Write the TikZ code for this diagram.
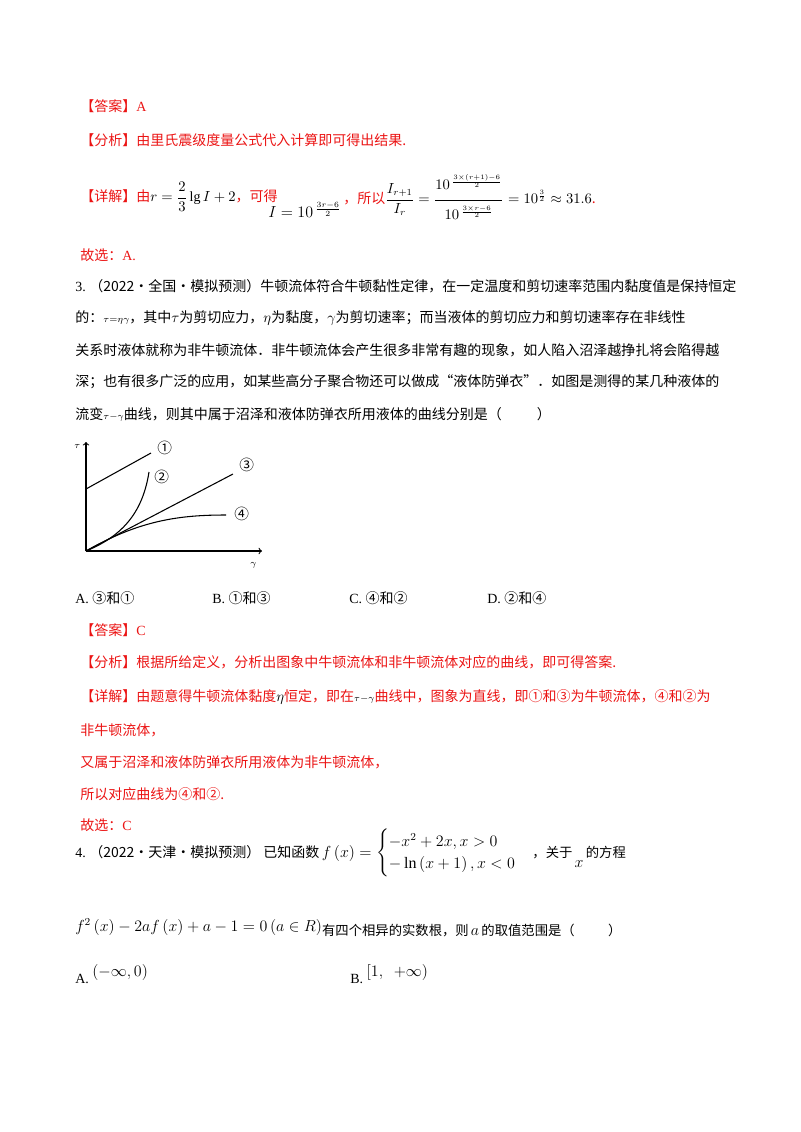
\documentclass[tikz,border=0pt]{standalone}
\usepackage{amsmath}
\usepackage{fontspec}
\setmainfont{Liberation Serif}
\newfontfamily\cjk{Noto Sans CJK SC}
\definecolor{ansred}{RGB}{235,20,20}
\begin{document}
\begin{tikzpicture}[x=0.75pt,y=-0.75pt,
  t/.style={anchor=west,inner sep=0pt,font=\fontsize{10.5}{12}\selectfont\cjk},
  r/.style={t,text=ansred}]
\useasboundingbox (0,0) rectangle (800,1132);
\node[r] (l1) at (80,106) {【答案】\rmfamily A};
\node[r] (l2) at (80,140) {【分析】由里氏震级度量公式代入计算即可得出结果.};
\node[r] (l3) at (80,197) {【详解】由\textcolor{black}{$r=\dfrac{2}{3}\lg I+2$}，可得};
\node[t] (l3b) at (268,210) {\large $I=10^{\,\frac{3r-6}{2}}$};
\node[r] (l3c) at (343,197) {，所以\textcolor{black}{$\dfrac{I_{r+1}}{I_r}=\dfrac{10^{\,\frac{3\times(r+1)-6}{2}}\rule[-6pt]{0pt}{6pt}}{\rule{0pt}{13pt}10^{\,\frac{3\times r-6}{2}}}=10^{\frac32}\approx31.6$}.};
\node[r] (l4) at (80,255) {故选：\rmfamily A.};
\node[t] (q1) at (75,286) {\rmfamily 3.\ \cjk（2022·全国·模拟预测）牛顿流体符合牛顿黏性定律，在一定温度和剪切速率范围内黏度值是保持恒定};
\node[t] (q2) at (75,318) {的：$\scriptstyle\tau=\eta\gamma$，其中$\tau$为剪切应力，$\eta$为黏度，$\gamma$为剪切速率；而当液体的剪切应力和剪切速率存在非线性};
\node[t] (q3) at (75,350) {关系时液体就称为非牛顿流体．非牛顿流体会产生很多非常有趣的现象，如人陷入沼泽越挣扎将会陷得越};
\node[t] (q4) at (75,382) {深；也有很多广泛的应用，如某些高分子聚合物还可以做成“液体防弹衣”．如图是测得的某几种液体的};
\node[t] (q5) at (75,414) {流变$\scriptstyle\tau-\gamma$曲线，则其中属于沼泽和液体防弹衣所用液体的曲线分别是（\hspace{2.5em}）};
% graph
\coordinate (O) at (86,551);
\draw[thick,->] (O) -- (86,442);
\draw[thick,->] (O) -- (262,551);
\node[t] (tau) at (74,446) {$\scriptstyle\tau$};
\node[t] (gam) at (250,565) {$\scriptstyle\gamma$};
\draw[thick] (86,489) -- (151,453);
\draw[thick] (O) .. controls (125,535) and (143,510) .. (149,472);
\draw[thick] (O) -- (233,474);
\draw[thick] (O) .. controls (140,520) and (180,515) .. (226,515);
\node[t] (c1) at (157,448) {\fontsize{11}{12}\selectfont ①};
\node[t] (c2) at (154,477) {\fontsize{11}{12}\selectfont ②};
\node[t] (c3) at (239,465) {\fontsize{11}{12}\selectfont ③};
\node[t] (c4) at (234,514) {\fontsize{11}{12}\selectfont ④};
\node[t] (oA) at (75,598) {\rmfamily A.\ \cjk ③和①};
\node[t] (oB) at (212,598) {\rmfamily B.\ \cjk ①和③};
\node[t] (oC) at (349,598) {\rmfamily C.\ \cjk ④和②};
\node[t] (oD) at (487,598) {\rmfamily D.\ \cjk ②和④};
\node[r] (a1) at (80,630) {【答案】\rmfamily C};
\node[r] (a2) at (80,662) {【分析】根据所给定义，分析出图象中牛顿流体和非牛顿流体对应的曲线，即可得答案.};
\node[r] (a3) at (80,697) {【详解】由题意得牛顿流体黏度\textcolor{black}{$\eta$}恒定，即在\textcolor{black}{$\scriptstyle\tau-\gamma$}曲线中，图象为直线，即①和③为牛顿流体，④和②为};
\node[r] (a4) at (80,730) {非牛顿流体，};
\node[r] (a5) at (80,762) {又属于沼泽和液体防弹衣所用液体为非牛顿流体，};
\node[r] (a6) at (80,794) {所以对应曲线为④和②.};
\node[r] (a7) at (80,825) {故选：\rmfamily C};
\node[t] (p1) at (75,853) {\rmfamily 4.\ \cjk（2022·天津·模拟预测）\ 已知函数\,\large$f\left(x\right)=\begin{cases}-x^2+2x,x>0\\ -\ln\left(x+1\right),x<0\end{cases}$\normalsize\cjk，关于\,\raisebox{-8pt}{\large$x$}\,的方程};
\node[t] (p2) at (75,928) {\large$f^2\left(x\right)-2af\left(x\right)+a-1=0\left(a\in R\right)$\normalsize\raisebox{-3pt}{\cjk 有四个相异的实数根，则\,\large$a$\normalsize\cjk\,的取值范围是（\hspace{2.5em}）}};
\node[t] (pA) at (75,974) {\rmfamily A.\ \raisebox{5pt}{\large$\left(-\infty,0\right)$}};
\node[t] (pB) at (350,974) {\rmfamily B.\ \raisebox{5pt}{\large$[1,\ \ +\infty)$}};
\end{tikzpicture}
\end{document}
